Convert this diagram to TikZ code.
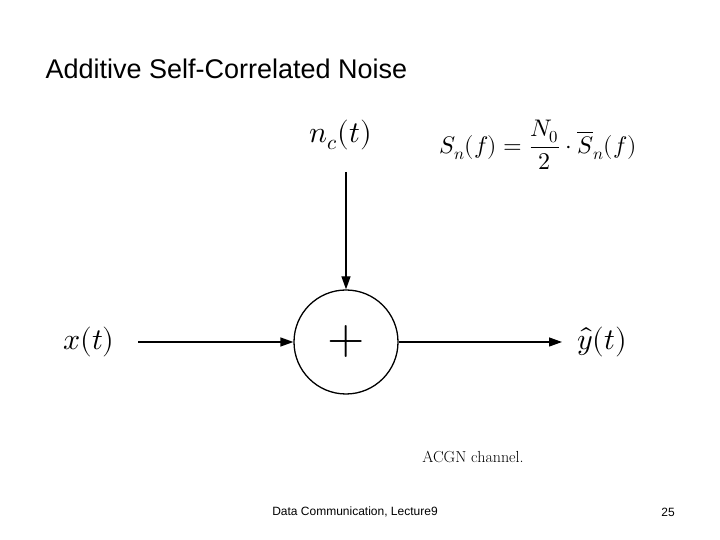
\documentclass[tikz,border=0pt]{standalone}
\usepackage{fontspec}
\usepackage{unicode-math}
\setmathfont{Latin Modern Math}
\newfontfamily\arial{Liberation Sans}
\usetikzlibrary{arrows.meta}
\begin{document}
\begin{tikzpicture}[x=1pt,y=1pt,
  conn/.style={line width=1.3pt,-{Triangle[length=13pt,width=9pt]}},
  mathlbl/.style={font=\fontsize{30}{32}\selectfont}]
\useasboundingbox (0,0) rectangle (720,540);
\node[anchor=west,font=\arial\fontsize{27}{30}\selectfont] (title) at (42,471) {Additive Self-Correlated Noise};
\node[circle,draw,line width=1.3pt,minimum size=104pt,inner sep=0pt,font=\fontsize{48}{48}\selectfont] (sum) at (346,198) {$+$};
\node[mathlbl] (x) at (89,198) {$x(t)$};
\node[mathlbl] (y) at (602,198) {$\hat{y}(t)$};
\node[mathlbl] (n) at (341,405) {$n_c(t)$};
\node[font=\fontsize{24}{26}\selectfont] (S) at (538,395) {$S_n(f)=\displaystyle\frac{N_0}{2}\cdot\overline{S}_n(f)$};
\coordinate (xin) at (138,198);
\coordinate (yout) at (562,198);
\coordinate (nin) at (346,368);
\draw[conn] (nin) -- (sum.north);
\draw[conn] (xin) -- (sum.west);
\draw[conn] (sum.east) -- (yout);
\node[font=\fontsize{16}{18}\selectfont] (cap) at (473,83) {ACGN channel.};
\node[font=\arial\fontsize{12}{14}\selectfont] (foot) at (355,28) {Data Communication, Lecture9};
\node[font=\arial\fontsize{12}{14}\selectfont] (pg) at (668,28) {25};
\end{tikzpicture}
\end{document}
